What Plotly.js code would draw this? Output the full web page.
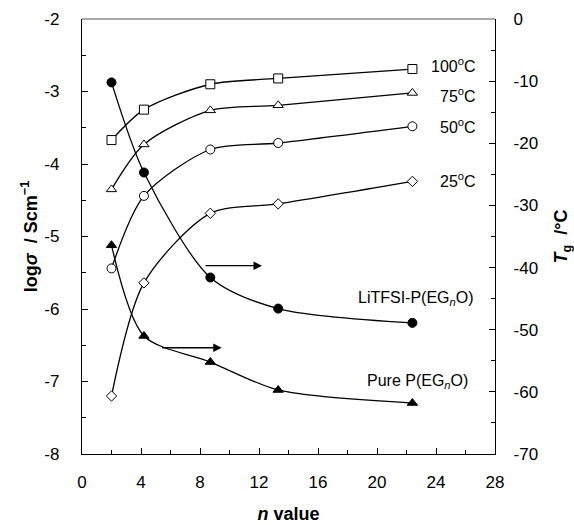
<!DOCTYPE html>
<html><head><meta charset="utf-8">
<script src="https://cdn.plot.ly/plotly-3.0.1.min.js"></script>
<style>body{margin:0;background:#fff}#chart{width:574px;height:525px}</style>
</head><body><div id="chart"></div>
<script>
const nValues = [2, 4.2, 8.7, 13.3, 22.4];
const sigma100 = [-3.67, -3.25, -2.90, -2.82, -2.69];
const sigma75 = [-4.35, -3.73, -3.26, -3.19, -3.02];
const sigma50 = [-5.44, -4.44, -3.80, -3.71, -3.48];
const sigma25 = [-7.20, -5.64, -4.68, -4.55, -4.24];
const tgLiTFSI = [-10.2, -24.7, -41.6, -46.6, -48.9];
const tgPure = [-36.4, -51.0, -55.2, -59.7, -61.8];
const xTicks = [0, 4, 8, 12, 16, 20, 24, 28];
const xTickText = ["0", "4", "8", "12", "16", "20", "24", "28"];
const yTicks = [-8, -7, -6, -5, -4, -3, -2];
const yTickText = ["-8", "-7", "-6", "-5", "-4", "-3", "-2"];
const y2Ticks = [-70, -60, -50, -40, -30, -20, -10, 0];
const y2TickText = ["-70", "-60", "-50", "-40", "-30", "-20", "-10", "0"];
const tempLabels = ["100<sup>o</sup>C", "75<sup>o</sup>C", "50<sup>o</sup>C", "25<sup>o</sup>C"];
const tempLabelY = [-2.63, -3.05, -3.48, -4.22];
const seriesLabels = ["LiTFSI-P(EG<sub><i>n</i></sub>O)", "Pure P(EG<sub><i>n</i></sub>O)"];
const seriesLabelY = [-44.9, -58.3];
const arrowStartX = [8.27, 5.33];
const arrowEndX = [12.2, 9.47];
const arrowY = [-39.7, -52.9];

const FONT = "Liberation Sans, Arial, sans-serif";
const line = {color: "#000", width: 1.3, shape: "spline", smoothing: 0.8};
function tr(y, sym, size, fill, axis) {
  return {x: nValues, y: y, yaxis: axis, type: "scatter", mode: "lines+markers",
    line: line, cliponaxis: false,
    marker: {symbol: sym, size: size, color: fill, line: {color: "#000", width: 1}}};
}
const data = [
  tr(sigma100, "square", 9, "#fff", "y"),
  tr(sigma75, "triangle-up", 9, "#fff", "y"),
  tr(sigma50, "circle", 9, "#fff", "y"),
  tr(sigma25, "diamond", 8, "#fff", "y"),
  tr(tgLiTFSI, "circle", 9, "#000", "y2"),
  tr(tgPure, "triangle-up", 9, "#000", "y2")
];
const ann = [];
tempLabels.forEach((t, i) => ann.push({x: 26.85, y: tempLabelY[i], xref: "x", yref: "y", text: t,
  showarrow: false, xanchor: "right", yanchor: "middle", font: {family: FONT, size: 16, color: "#000"}}));
seriesLabels.forEach((t, i) => ann.push({x: i === 0 ? 26.7 : 26.3, y: seriesLabelY[i], xref: "x", yref: "y2", text: t,
  showarrow: false, xanchor: "right", yanchor: "middle", font: {family: FONT, size: 16, color: "#000"}}));
arrowY.forEach((y, i) => ann.push({x: arrowEndX[i], y: y, xref: "x", yref: "y2", ax: arrowStartX[i], ay: y,
  axref: "x", ayref: "y2", text: "", showarrow: true, arrowhead: 2, arrowsize: 1.3, arrowwidth: 1.3, arrowcolor: "#000"}));

const tickFont = {family: FONT, size: 17, color: "#000"};
const layout = {
  width: 574, height: 525,
  margin: {l: 82, r: 79, t: 19, b: 71},
  paper_bgcolor: "#fff", plot_bgcolor: "#fff",
  showlegend: false,
  font: {family: FONT, color: "#000"},
  xaxis: {range: [0, 28], tickmode: "array", tickvals: xTicks, ticktext: xTickText,
    ticks: "inside", ticklen: 6, tickcolor: "#000", ticklabelstandoff: 12,
    minor: {tickmode: "linear", tick0: 0, dtick: 2, ticks: "inside", ticklen: 4, tickcolor: "#000"},
    showgrid: false, zeroline: false, showline: true, linecolor: "#000", linewidth: 1.2,
    mirror: false, tickfont: tickFont,
    title: {text: "<b><i>n</i> value</b>", font: {family: FONT, size: 18, color: "#000"}, standoff: 16}},
  yaxis: {range: [-8, -2], tickmode: "array", tickvals: yTicks, ticktext: yTickText,
    ticks: "inside", ticklen: 6, tickcolor: "#000", ticklabelstandoff: 18,
    minor: {tickmode: "linear", tick0: 0, dtick: 0.5, ticks: "inside", ticklen: 4, tickcolor: "#000"},
    showgrid: false, zeroline: false, showline: true, linecolor: "#000", linewidth: 1.2,
    tickfont: tickFont,
    title: {text: "<b>log<i>σ</i>  / Scm<sup>−1</sup></b>", font: {family: FONT, size: 18, color: "#000"}, standoff: 2}},
  yaxis2: {range: [-70, 0], tickmode: "array", tickvals: y2Ticks, ticktext: y2TickText,
    overlaying: "y", side: "right", ticks: "inside", ticklen: 6, tickcolor: "#000", ticklabelstandoff: 14,
    minor: {tickmode: "linear", tick0: 0, dtick: 5, ticks: "inside", ticklen: 4, tickcolor: "#000"},
    showgrid: false, zeroline: false, showline: true, linecolor: "#000", linewidth: 1.2,
    tickfont: tickFont,
    title: {text: "<b><i>T</i><sub>g</sub>  /°C</b>", font: {family: FONT, size: 18, color: "#000"}, standoff: 20}},
  shapes: [{type: "line", xref: "paper", yref: "paper", x0: 0, x1: 1, y0: 1, y1: 1,
    line: {color: "#555", width: 1}}],
  annotations: ann
};
Plotly.newPlot("chart", data, layout, {displayModeBar: false, staticPlot: true});
</script></body></html>
